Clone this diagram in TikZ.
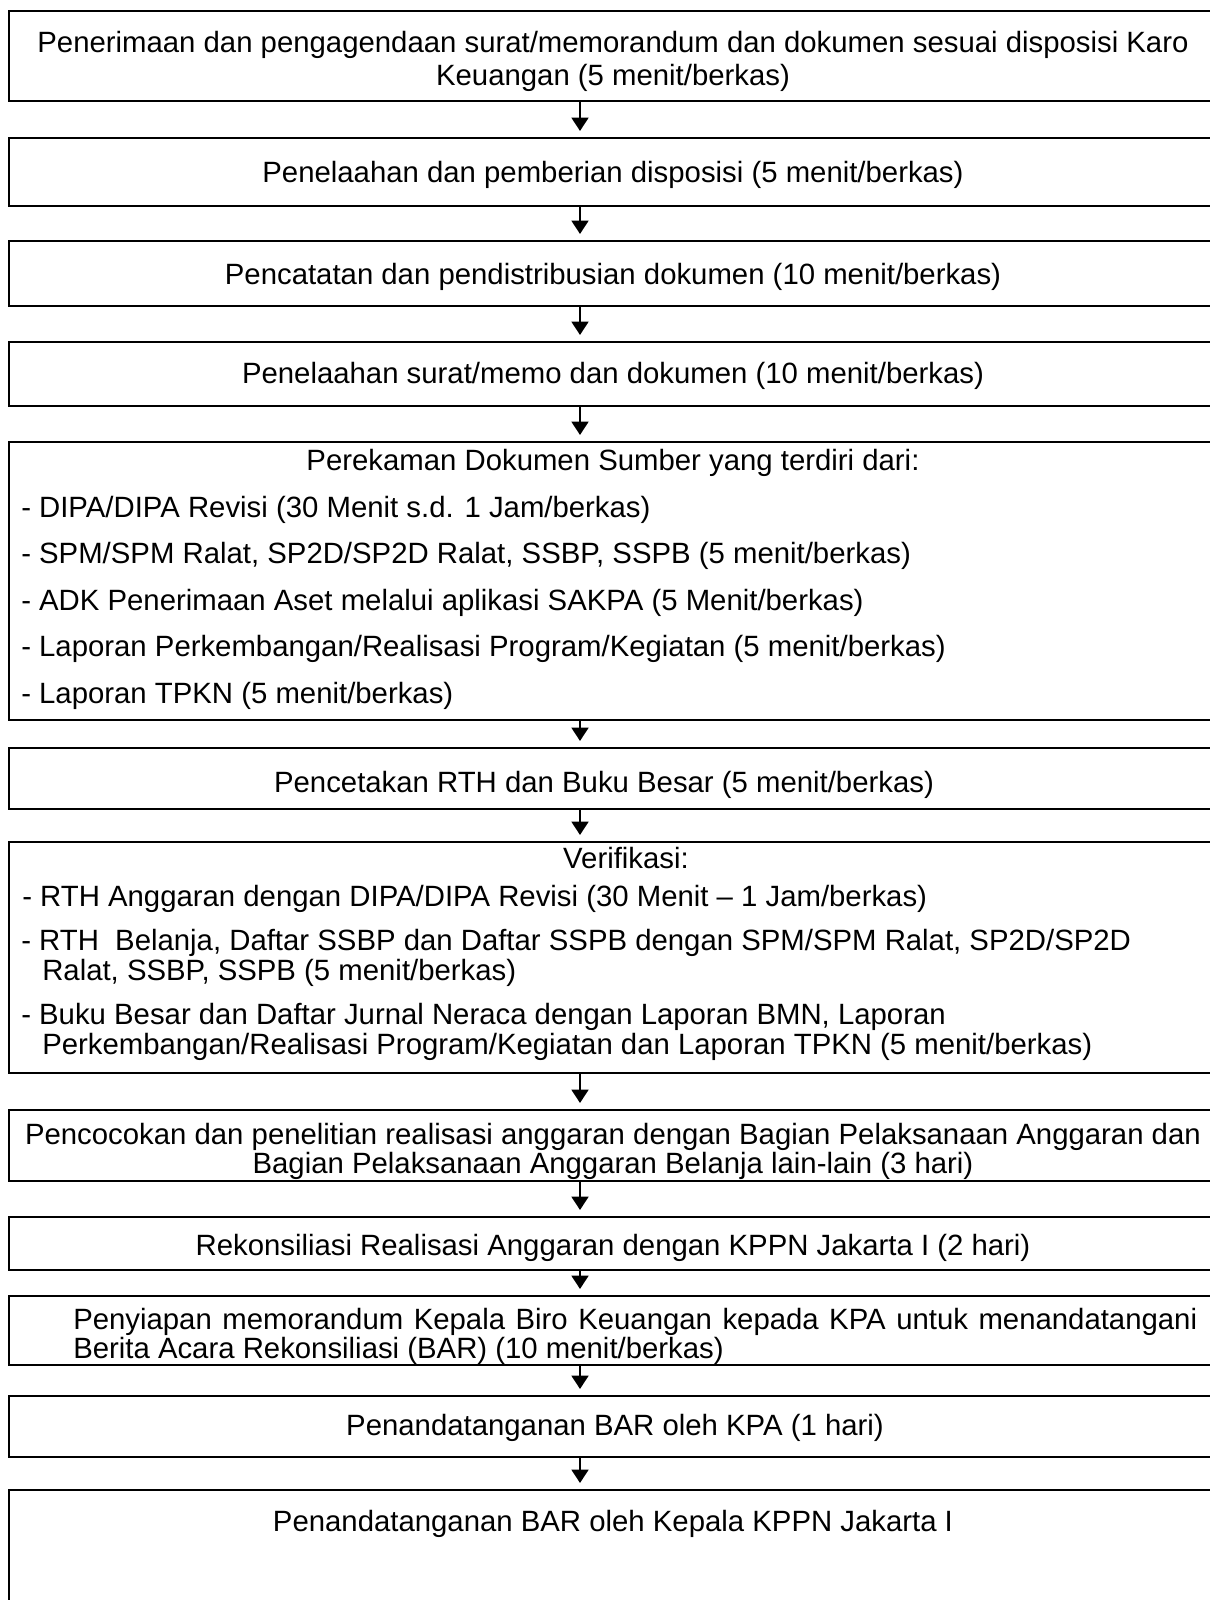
\documentclass[tikz,border=0pt]{standalone}
\usepackage{fontspec}
\setmainfont{Liberation Sans}
\usetikzlibrary{arrows.meta}
\newcommand\mkbox[3]{\node[boxst,minimum height={(#3-#2)*0.75pt}] (#1) at (613,{(#2+#3)/2}) {};}
\begin{document}
\begin{tikzpicture}[x=0.75pt,y=-0.75pt,
  boxst/.style={draw,line width=2.1pt,minimum width=906pt,inner sep=0pt,outer sep=0pt},
  txt/.style={anchor=base,yshift=-8pt,inner sep=0pt,font=\fontsize{22}{25}\selectfont},
  ltxt/.style={txt,anchor=base west},
  arr/.style={line width=2pt,-{Triangle[width=12.5pt,length=10pt]}}]
\clip (0,0) rectangle (1210,1600);
\fill[white] (0,0) rectangle (1210,1600);
\coordinate (ax) at (580,0);
% boxes
\mkbox{b1}{11}{101}
\mkbox{b2}{138}{206}
\mkbox{b3}{241}{306}
\mkbox{b4}{342}{406}
\mkbox{b5}{442}{720}
\mkbox{b6}{748}{809}
\mkbox{b7}{842}{1073}
\mkbox{b8}{1110}{1181}
\mkbox{b9}{1217}{1270}
\mkbox{b10}{1296}{1365}
\mkbox{b11}{1396}{1457}
\mkbox{b12}{1490}{1640}
% texts
\node[txt] (t1a) at (613,42) {Penerimaan dan pengagendaan surat/memorandum dan dokumen sesuai disposisi Karo};
\node[txt] (t1b) at (613,75) {Keuangan (5 menit/berkas)};
\node[txt] (t2) at (613,172) {Penelaahan dan pemberian disposisi (5 menit/berkas)};
\node[txt] (t3) at (613,274) {Pencatatan dan pendistribusian dokumen (10 menit/berkas)};
\node[txt] (t4) at (613,373) {Penelaahan surat/memo dan dokumen (10 menit/berkas)};
\node[txt] (t5a) at (613,460) {Perekaman Dokumen Sumber yang terdiri dari:};
\node[ltxt] (t5b) at (21,507) {- DIPA/DIPA Revisi (30 Menit s.d. 1 Jam/berkas)};
\node[ltxt] (t5c) at (21,553) {- SPM/SPM Ralat, SP2D/SP2D Ralat, SSBP, SSPB (5 menit/berkas)};
\node[ltxt] (t5d) at (21,600) {- ADK Penerimaan Aset melalui aplikasi SAKPA (5 Menit/berkas)};
\node[ltxt] (t5e) at (21,646) {- Laporan Perkembangan/Realisasi Program/Kegiatan (5 menit/berkas)};
\node[ltxt] (t5f) at (21,693) {- Laporan TPKN (5 menit/berkas)};
\node[txt] (t6) at (604,782) {Pencetakan RTH dan Buku Besar (5 menit/berkas)};
\node[txt] (t7a) at (626,858) {Verifikasi:};
\node[ltxt] (t7b) at (22,896) {- RTH Anggaran dengan DIPA/DIPA Revisi (30 Menit – 1 Jam/berkas)};
\node[ltxt] (t7c) at (21,940) {- RTH\ \ Belanja, Daftar SSBP dan Daftar SSPB dengan SPM/SPM Ralat, SP2D/SP2D};
\node[ltxt] (t7d) at (42,970) {Ralat, SSBP, SSPB (5 menit/berkas)};
\node[ltxt] (t7e) at (21,1014) {- Buku Besar dan Daftar Jurnal Neraca dengan Laporan BMN, Laporan};
\node[ltxt] (t7f) at (42,1044) {Perkembangan/Realisasi Program/Kegiatan dan Laporan TPKN (5 menit/berkas)};
\node[txt] (t8a) at (613,1134) {Pencocokan dan penelitian realisasi anggaran dengan Bagian Pelaksanaan Anggaran dan};
\node[txt] (t8b) at (613,1163) {Bagian Pelaksanaan Anggaran Belanja lain-lain (3 hari)};
\node[txt] (t9) at (613,1245) {Rekonsiliasi Realisasi Anggaran dengan KPPN Jakarta I (2 hari)};
\node[ltxt] (t10a) at (73,1319) {\makebox[843pt][s]{Penyiapan memorandum Kepala Biro Keuangan kepada KPA untuk menandatangani}};
\node[ltxt] (t10b) at (73,1348) {Berita Acara Rekonsiliasi (BAR) (10 menit/berkas)};
\node[txt] (t11) at (615,1425) {Penandatanganan BAR oleh KPA (1 hari)};
\node[txt] (t12) at (613,1521) {Penandatanganan BAR oleh Kepala KPPN Jakarta I};
% arrows
\foreach \a/\b in {b1/b2,b2/b3,b3/b4,b4/b5,b5/b6,b6/b7,b7/b8,b8/b9,b9/b10,b10/b11,b11/b12}
  \draw[arr] (\a.south -| ax) -- ([yshift=5.25pt]\b.north -| ax);
\end{tikzpicture}
\end{document}
